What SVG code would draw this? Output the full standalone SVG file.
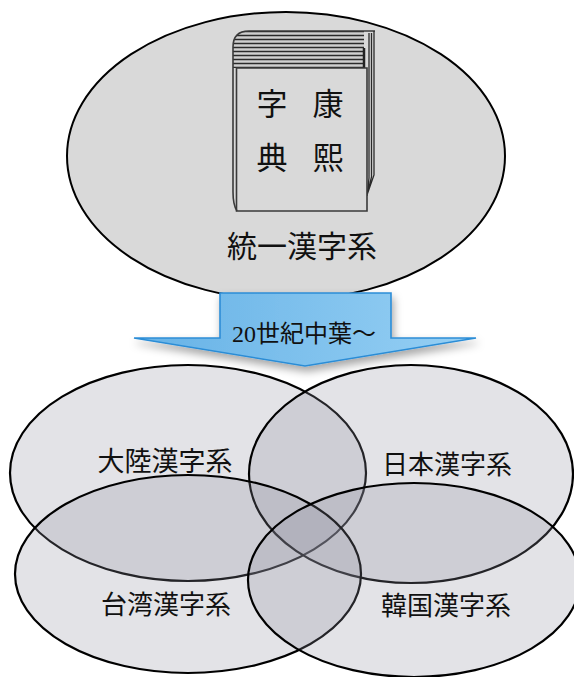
<svg xmlns="http://www.w3.org/2000/svg" width="574" height="677" viewBox="0 0 574 677">
  <defs>
    <style>
      .cjk { font-family: "Liberation Serif", "Noto Sans CJK JP", serif; fill: #111; text-anchor: middle; }
      .book-char { font-family: "Noto Sans CJK JP", serif; font-weight: 400; fill: #111; text-anchor: middle; font-size: 31px; }
      .region { fill: #8E8EA0; fill-opacity: 0.25; stroke: #000; stroke-width: 2.2; }
      .stripe { stroke: #2a2a2a; stroke-width: 1.3; fill: none; }
      .edge { stroke: #3a3a3a; stroke-width: 1.6; fill: none; }
    </style>
    <linearGradient id="arrowFill" x1="0" y1="0" x2="1" y2="0">
      <stop offset="0" stop-color="#66B2E6"/>
      <stop offset="1" stop-color="#97D0F4"/>
    </linearGradient>
    <filter id="arrowShadow" x="-10%" y="-20%" width="120%" height="160%">
      <feDropShadow dx="2" dy="5" stdDeviation="4" flood-color="#000" flood-opacity="0.35"/>
    </filter>
    <clipPath id="pageTop">
      <path d="M233,68 L233,47 Q233,31 249,31 L364,31 L364,68 Z"/>
    </clipPath>
  </defs>

  <!-- unified system: large ellipse with the dictionary -->
  <g id="unified">
    <ellipse cx="286" cy="156" rx="219" ry="144" fill="#D9D9D9" stroke="#000" stroke-width="2"/>
    <g id="dictionary">
      <!-- page block seen from above -->
      <path d="M233,68 L233,47 Q233,31 249,31 L375,31 L375,175 L367,195 L367,68 Z" fill="#D9D9D9"/>
      <g clip-path="url(#pageTop)">
        <rect x="233" y="31" width="131" height="37" fill="#cfcfcf"/>
        <path class="stripe" d="M230,31.5H364 M230,35.5H364 M230,39.5H364 M230,43.5H364 M230,47.5H364 M230,51.5H364 M230,55.5H364 M230,59.5H364 M230,63.5H364 M230,67.5H364"/>
      </g>
      <path class="edge" d="M233,68 L233,47 Q233,31 249,31 L375,31"/>
      <path d="M364,48 V68" stroke="#222" stroke-width="2.5"/>
      <!-- page block seen from the side -->
      <path class="stripe" d="M369,33 V178 L367,196 M371.5,33 V177 L367,195 M374,31 V175 L367,195"/>
      <!-- front cover -->
      <path d="M236.5,68 H367 V211 H236.5 Z" fill="#D9D9D9"/>
      <path class="edge" d="M236.5,68 H367 V211 H236.5 Z"/>
      <path class="edge" d="M233,68 V192 Q233,205 237,211"/>
      <text class="book-char" x="272" y="115">字</text>
      <text class="book-char" x="328" y="115">康</text>
      <text class="book-char" x="272" y="169">典</text>
      <text class="book-char" x="328" y="169">熙</text>
    </g>
    <text class="cjk" x="302" y="257" font-size="30">統一漢字系</text>
  </g>

  <!-- transition arrow -->
  <g id="connectors">
    <g id="arrow-mid20c" filter="url(#arrowShadow)">
      <path d="M220,293 H391 V338 H476 L305,366 L134,338 H220 Z" fill="url(#arrowFill)" stroke="#2C8DD6" stroke-width="1.6" stroke-linejoin="miter"/>
    </g>
    <text class="cjk" x="304" y="342" font-size="24">20世紀中葉～</text>
  </g>

  <!-- regional systems -->
  <g id="mainland">
    <ellipse class="region" cx="188" cy="473" rx="178" ry="108"/>
  </g>
  <g id="japan">
    <ellipse class="region" cx="411" cy="474" rx="162" ry="109"/>
  </g>
  <g id="taiwan">
    <ellipse class="region" cx="188" cy="574" rx="173" ry="99"/>
  </g>
  <g id="korea">
    <ellipse class="region" cx="414" cy="580" rx="166" ry="97"/>
  </g>

  <g id="labels">
    <text class="cjk" x="165" y="471" font-size="27">大陸漢字系</text>
    <text class="cjk" x="447" y="474" font-size="26">日本漢字系</text>
    <text class="cjk" x="166" y="614" font-size="26">台湾漢字系</text>
    <text class="cjk" x="446" y="615" font-size="26">韓国漢字系</text>
  </g>
</svg>
